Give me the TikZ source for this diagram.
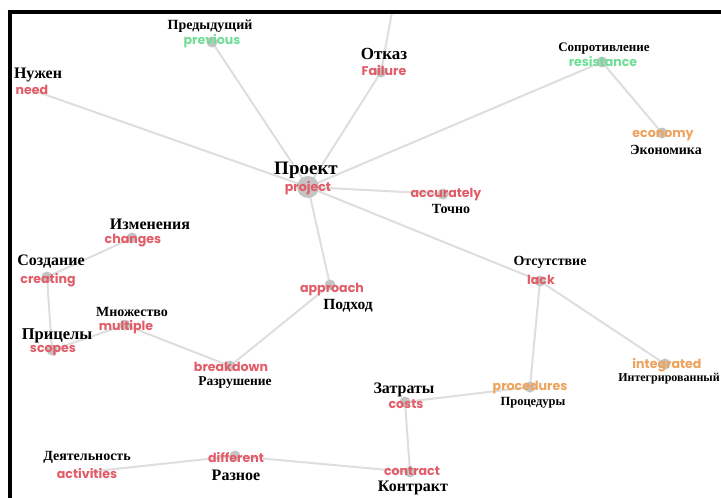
\documentclass[tikz,border=0pt]{standalone}
\usepackage{fontspec}
\setmainfont{Liberation Serif}
\newfontfamily\wordfont{Poppins}

\definecolor{linkc}{RGB}{222,222,222}
\definecolor{dotc}{RGB}{196,196,196}
\definecolor{wred}{RGB}{226,92,104}
\definecolor{wgreen}{RGB}{112,222,150}
\definecolor{worange}{RGB}{238,162,92}

\tikzset{
  ru/.style={font=\bfseries\fontsize{#1}{#1}\selectfont, text=black, inner sep=0pt},
  en/.style={font=\wordfont\bfseries\fontsize{12.6}{12.6}\selectfont, text=#1, inner sep=0pt},
  link/.style={draw=linkc, line width=2pt},
  frameline/.style={draw=black, line width=4pt},
}

\begin{document}
\begin{tikzpicture}[x=1pt, y=-1pt]
  \fill[white] (0,0) rectangle (721,498);
  \useasboundingbox (0,0) rectangle (721,498);

  % concept positions (centre of each grey dot)
  \coordinate (project)    at (308,187);
  \coordinate (previous)   at (212,42);
  \coordinate (need)       at (32,90);
  \coordinate (failure)    at (381,72);
  \coordinate (above)      at (392,12);
  \coordinate (resistance) at (602,62);
  \coordinate (economy)    at (662,133);
  \coordinate (accurately) at (443,194);
  \coordinate (changes)    at (132,238);
  \coordinate (creating)   at (47,277);
  \coordinate (scopes)     at (52,350);
  \coordinate (multiple)   at (125,325);
  \coordinate (breakdown)  at (230,366);
  \coordinate (approach)   at (330,285);
  \coordinate (lack)       at (540,281);
  \coordinate (integrated) at (665,364);
  \coordinate (procedures) at (530,387);
  \coordinate (costs)      at (405,402);
  \coordinate (contract)   at (410,472);
  \coordinate (different)  at (235,456);
  \coordinate (activities) at (87,472);

  % links
  \draw[link] (project) -- (previous);
  \draw[link] (project) -- (need);
  \draw[link] (project) -- (failure);
  \draw[link] (failure) -- (above);
  \draw[link] (project) -- (resistance);
  \draw[link] (resistance) -- (economy);
  \draw[link] (project) -- (accurately);
  \draw[link] (project) -- (lack);
  \draw[link] (project) -- (approach);
  \draw[link] (approach) -- (breakdown);
  \draw[link] (breakdown) -- (multiple);
  \draw[link] (multiple) -- (scopes);
  \draw[link] (scopes) -- (creating);
  \draw[link] (creating) -- (changes);
  \draw[link] (lack) -- (procedures);
  \draw[link] (lack) -- (integrated);
  \draw[link] (procedures) -- (costs);
  \draw[link] (costs) -- (contract);
  \draw[link] (contract) -- (different);
  \draw[link] (different) -- (activities);

  % grey dots
  \fill[dotc] (project) circle[radius=11pt];
  \foreach \c in {previous,failure,resistance,economy,accurately,changes,creating,
                  scopes,multiple,breakdown,approach,lack,integrated,procedures,
                  costs,contract,different}
    \fill[dotc] (\c) circle[radius=5.5pt];

  % labels
  \node[ru=19]   (project-ru)    at (306,170) {Проект};
  \node[en=wred] (project-en)    at (308,188) {project};
  \node[ru=14]   (previous-ru)   at (210,26)  {Предыдущий};
  \node[en=wgreen] (previous-en) at (212,41)  {previous};
  \node[ru=16]   (need-ru)       at (38,75)   {Нужен};
  \node[en=wred] (need-en)       at (32,90)   {need};
  \node[ru=17]   (failure-ru)    at (384,54)  {Отказ};
  \node[en=wred] (failure-en)    at (384,71)  {Failure};
  \node[ru=13]   (resistance-ru) at (604,49)  {Сопротивление};
  \node[en=wgreen] (resistance-en) at (603,62) {resistance};
  \node[en=worange] (economy-en) at (663,136) {economy};
  \node[ru=14]   (economy-ru)    at (666,150) {Экономика};
  \node[en=wred] (accurately-en) at (446,195) {accurately};
  \node[ru=14]   (accurately-ru) at (451,209) {Точно};
  \node[ru=16]   (changes-ru)    at (150,224) {Изменения};
  \node[en=wred] (changes-en)    at (133,241) {changes};
  \node[ru=16]   (creating-ru)   at (51,262)  {Создание};
  \node[en=wred] (creating-en)   at (48,280)  {creating};
  \node[ru=16.5] (scopes-ru)     at (57,336)  {Прицелы};
  \node[en=wred] (scopes-en)     at (53,351)  {scopes};
  \node[ru=14]   (multiple-ru)   at (132,312) {Множество};
  \node[en=wred] (multiple-en)   at (126,327) {multiple};
  \node[en=wred] (breakdown-en)  at (231,367) {breakdown};
  \node[ru=13.5] (breakdown-ru)  at (235,383) {Разрушение};
  \node[en=wred] (approach-en)   at (332,290) {approach};
  \node[ru=15.5] (approach-ru)   at (348,306) {Подход};
  \node[ru=14]   (lack-ru)       at (550,262) {Отсутствие};
  \node[en=wred] (lack-en)       at (541,280) {lack};
  \node[en=worange] (integrated-en) at (667,365) {integrated};
  \node[ru=12]   (integrated-ru) at (669,379) {Интегрированный};
  \node[en=worange] (procedures-en) at (530,388) {procedures};
  \node[ru=12.5] (procedures-ru) at (533,403) {Процедуры};
  \node[ru=16]   (costs-ru)      at (404,390) {Затраты};
  \node[en=wred] (costs-en)      at (406,404) {costs};
  \node[en=wred] (contract-en)   at (412,471) {contract};
  \node[ru=16]   (contract-ru)   at (413,488) {Контракт};
  \node[en=wred] (different-en)  at (236,457) {different};
  \node[ru=16]   (different-ru)  at (236,475) {Разное};
  \node[ru=14]   (activities-ru) at (87,457)  {Деятельность};
  \node[en=wred] (activities-en) at (87,473)  {activities};

  % frame edges
  \draw[frameline] (9.5,10) -- (9.5,498);
  \draw[frameline] (7.5,12) -- (721,12);
\end{tikzpicture}
\end{document}
